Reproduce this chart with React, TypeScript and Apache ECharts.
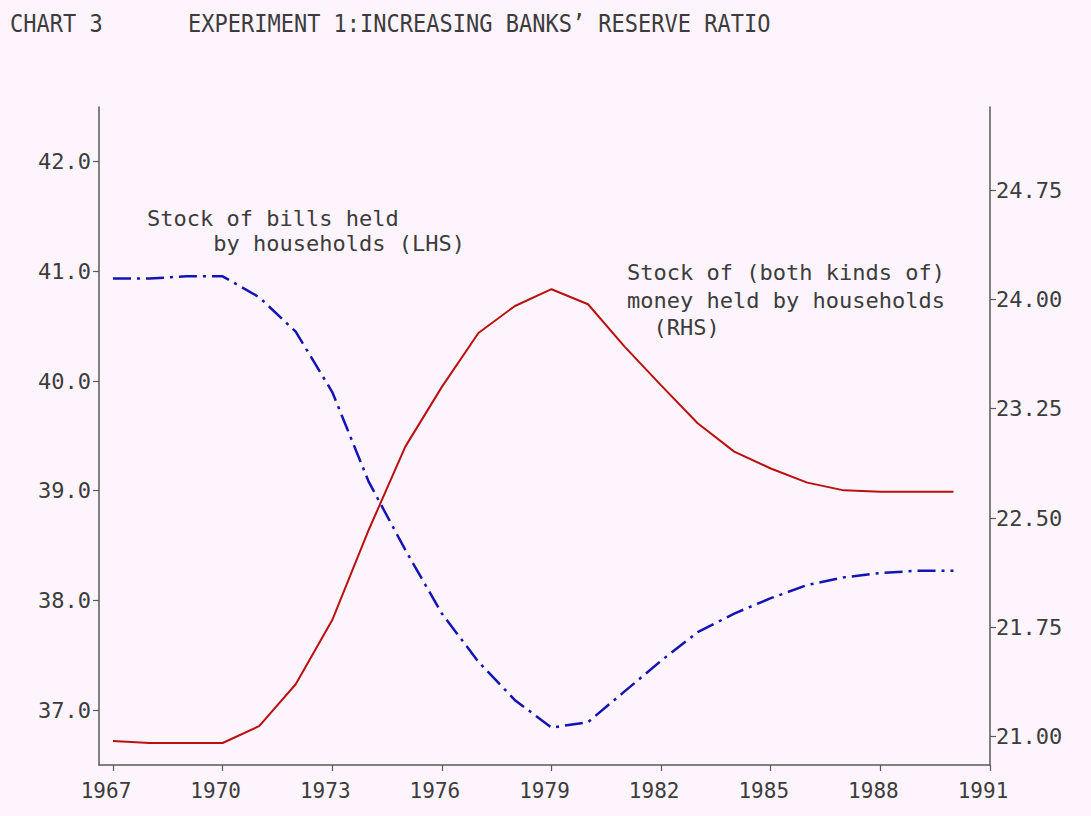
import React, { useEffect, useRef } from "react";
import * as echarts from "echarts";

const years = [1967, 1968, 1969, 1970, 1971, 1972, 1973, 1974, 1975, 1976, 1977, 1978, 1979, 1980, 1981, 1982, 1983, 1984, 1985, 1986, 1987, 1988, 1989, 1990];
const billsLHS = [40.935, 40.935, 40.955, 40.955, 40.765, 40.45, 39.9, 39.08, 38.46, 37.88, 37.44, 37.09, 36.84, 36.89, 37.17, 37.45, 37.71, 37.88, 38.02, 38.14, 38.21, 38.25, 38.27, 38.27];
const moneyRHS = [20.97, 20.957, 20.957, 20.957, 21.073, 21.36, 21.8, 22.42, 22.99, 23.4, 23.77, 23.955, 24.07, 23.967, 23.676, 23.41, 23.15, 22.956, 22.84, 22.743, 22.69, 22.68, 22.68, 22.68];
const xTicks = [1967, 1970, 1973, 1976, 1979, 1982, 1985, 1988, 1991];
const leftTicks = [37, 38, 39, 40, 41, 42];
const rightTicks = [21, 21.75, 22.5, 23.25, 24, 24.75];

const titleLeft = "CHART 3";
const titleMain = "EXPERIMENT 1:INCREASING BANKS’ RESERVE RATIO";
const billsNote = ["Stock of bills held", "     by households (LHS)"];
const moneyNote = ["Stock of (both kinds of)", "money held by households", "  (RHS)"];

const FONT = "DejaVu Sans Mono";
const TXT = "#3c3c3c";
const AX = "#5a5a5a";

export default function App() {
  const ref = useRef<HTMLDivElement>(null);
  useEffect(() => {
    if (!ref.current) return;
    const chart = echarts.init(ref.current, null, { renderer: "svg" });
    const txt = (text: string, x: number, y: number, size = 22, sy = 1) => ({
      type: "text",
      x,
      y,
      scaleY: sy,
      style: {
        text,
        fill: TXT,
        font: `${size}px '${FONT}'`,
        align: "left",
        verticalAlign: "middle",
      },
    });
    chart.setOption({
      animation: false,
      backgroundColor: "#fdf4fd",
      grid: { left: 99, right: 101, top: 107, bottom: 51 },
      xAxis: {
        type: "value",
        min: 1966.617,
        max: 1991,
        axisLine: { show: true, lineStyle: { color: AX, width: 1.5 } },
        axisTick: { show: true, customValues: xTicks, length: 6, lineStyle: { color: AX, width: 1.2 } },
        axisLabel: {
          customValues: xTicks,
          formatter: (v: number) => String(v),
          color: TXT,
          fontFamily: FONT,
          fontSize: 21,
          margin: 15,
          padding: [0, 14, 0, 0],
        },
        splitLine: { show: false },
      },
      yAxis: [
        {
          type: "value",
          min: 36.499,
          max: 42.499,
          position: "left",
          axisLine: { show: true, lineStyle: { color: AX, width: 1.5 } },
          axisTick: { show: true, customValues: leftTicks, length: 6, lineStyle: { color: AX, width: 1.2 } },
          axisLabel: {
            customValues: leftTicks,
            formatter: (v: number) => v.toFixed(1),
            color: TXT,
            fontFamily: FONT,
            fontSize: 22,
            margin: 8,
          },
          splitLine: { show: false },
        },
        {
          type: "value",
          min: 20.806,
          max: 25.32,
          position: "right",
          axisLine: { show: true, lineStyle: { color: AX, width: 1.5 } },
          axisTick: { show: true, customValues: rightTicks, length: 6, lineStyle: { color: AX, width: 1.2 } },
          axisLabel: {
            customValues: rightTicks,
            formatter: (v: number) => v.toFixed(2),
            color: TXT,
            fontFamily: FONT,
            fontSize: 22,
            margin: 6,
          },
          splitLine: { show: false },
        },
      ],
      series: [
        {
          type: "line",
          yAxisIndex: 0,
          data: years.map((y, i) => [y, billsLHS[i]]),
          showSymbol: false,
          lineStyle: { color: "#1414b4", width: 2.5, type: [18, 6, 3, 6] },
        },
        {
          type: "line",
          yAxisIndex: 1,
          data: years.map((y, i) => [y, moneyRHS[i]]),
          showSymbol: false,
          lineStyle: { color: "#bb1010", width: 2 },
        },
      ],
      graphic: [
        txt(titleLeft, 10, 24, 22, 1.12),
        txt(titleMain, 188, 24, 22, 1.12),
        txt(billsNote[0], 147, 218),
        txt(billsNote[1], 147, 243),
        txt(moneyNote[0], 627, 272),
        txt(moneyNote[1], 627, 300),
        txt(moneyNote[2], 627, 327),
      ],
    });
    return () => chart.dispose();
  }, []);
  return (
    <div
      ref={ref}
      style={{ position: "fixed", left: 0, top: 0, width: 1091, height: 816 }}
    />
  );
}
